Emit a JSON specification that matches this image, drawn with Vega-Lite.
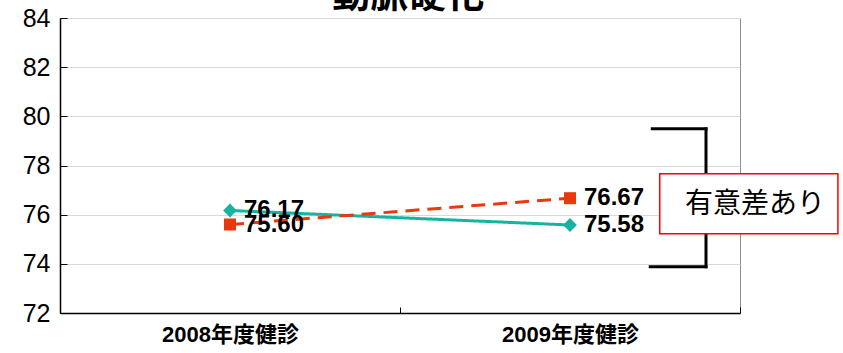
{
  "$schema": "https://vega.github.io/schema/vega-lite/v6.json",
  "width": 680,
  "height": 295,
  "autosize": {"type": "none"},
  "padding": {"left": 60, "top": 18, "right": 103, "bottom": 40},
  "background": "white",
  "config": {"view": {"stroke": "#8c8c8c", "strokeWidth": 1}},
  "datasets": {
    "series": [
      {"period": "2008年度健診", "series": "A", "value": 76.17},
      {"period": "2009年度健診", "series": "A", "value": 75.58},
      {"period": "2008年度健診", "series": "B", "value": 75.60},
      {"period": "2009年度健診", "series": "B", "value": 76.67}
    ],
    "bracket": [
      {"x": 0.871, "x2": 0.950, "y": 79.49, "y2": 79.49},
      {"x": 0.950, "x2": 0.950, "y": 79.49, "y2": 73.88},
      {"x": 0.868, "x2": 0.950, "y": 73.88, "y2": 73.88}
    ],
    "note": [
      {"x": 0.882, "x2": 1.144, "y": 77.66, "y2": 75.22, "tx": 1.022, "ty": 76.38, "label": "有意差あり"}
    ],
    "heading": [
      {"tx": 0.512, "ty": 84.45, "label": "動脈硬化"}
    ]
  },
  "layer": [
    {
      "data": {"name": "series"},
      "encoding": {
        "x": {"field": "period", "type": "nominal", "sort": null,
          "scale": {"type": "band", "paddingInner": 0, "paddingOuter": 0},
          "axis": {"title": null, "labelAngle": 0, "labelFontSize": 22, "labelFont": "Liberation Sans, Noto Sans CJK JP", "labelFontWeight": "bold", "labelColor": "black", "tickBand": "extent", "tickSize": -6, "tickColor": "black", "domainColor": "black", "domainWidth": 1.5, "labelPadding": 17, "labelBaseline": "top", "grid": false}},
        "y": {"field": "value", "type": "quantitative",
          "scale": {"domain": [72, 84], "nice": false, "zero": false},
          "axis": {"values": [72, 74, 76, 78, 80, 82, 84], "title": null, "tickSize": -7, "tickColor": "black", "labelFontSize": 25, "labelFont": "Liberation Sans", "labelColor": "black", "labelPadding": 17, "gridColor": "#d9d9d9", "domainColor": "black", "domainWidth": 1.5}},
        "color": {"field": "series", "type": "nominal", "scale": {"domain": ["A", "B"], "range": ["#17B3A0", "#E8380D"]}, "legend": null}
      },
      "layer": [
        {"mark": {"type": "line", "strokeWidth": 3},
         "encoding": {"strokeDash": {"field": "series", "type": "nominal", "scale": {"domain": ["A", "B"], "range": [[1, 0], [14, 8]]}, "legend": null}}},
        {"mark": {"type": "point", "filled": true, "opacity": 1},
         "encoding": {
           "shape": {"field": "series", "type": "nominal", "scale": {"domain": ["A", "B"], "range": ["diamond", "square"]}, "legend": null},
           "size": {"field": "series", "type": "nominal", "scale": {"domain": ["A", "B"], "range": [190, 144]}, "legend": null}}},
        {"mark": {"type": "text", "align": "left", "baseline": "middle", "dx": 14, "fontSize": 24, "fontWeight": "bold", "font": "Liberation Sans", "color": "black"},
         "encoding": {"text": {"field": "value", "type": "quantitative", "format": ".2f"}, "color": {"value": "black"}}}
      ]
    },
    {
      "data": {"name": "bracket"},
      "mark": {"type": "rule", "strokeWidth": 3, "color": "black", "strokeCap": "square"},
      "encoding": {
        "x": {"field": "x", "type": "quantitative", "scale": {"domain": [0, 1], "nice": false, "zero": false}, "axis": null},
        "x2": {"field": "x2"},
        "y": {"field": "y", "type": "quantitative"},
        "y2": {"field": "y2"}
      }
    },
    {
      "data": {"name": "note"},
      "layer": [
        {"mark": {"type": "rect", "fill": "white", "stroke": "#FF0000", "strokeWidth": 1.5},
         "encoding": {
           "x": {"field": "x", "type": "quantitative", "scale": {"domain": [0, 1], "nice": false, "zero": false}, "axis": null},
           "x2": {"field": "x2"},
           "y": {"field": "y", "type": "quantitative"},
           "y2": {"field": "y2"}
         }},
        {"mark": {"type": "text", "align": "center", "baseline": "middle", "fontSize": 28, "font": "Noto Sans CJK JP", "color": "black"},
         "encoding": {
           "x": {"field": "tx", "type": "quantitative", "scale": {"domain": [0, 1], "nice": false, "zero": false}, "axis": null},
           "y": {"field": "ty", "type": "quantitative"},
           "text": {"field": "label"}
         }}
      ]
    },
    {
      "data": {"name": "heading"},
      "mark": {"type": "text", "align": "center", "baseline": "alphabetic", "fontSize": 38, "fontWeight": "bold", "font": "Noto Sans CJK JP", "color": "black"},
      "encoding": {
        "x": {"field": "tx", "type": "quantitative", "scale": {"domain": [0, 1], "nice": false, "zero": false}, "axis": null},
        "y": {"field": "ty", "type": "quantitative"},
        "text": {"field": "label"}
      }
    }
  ],
  "resolve": {"scale": {"x": "independent"}}
}
